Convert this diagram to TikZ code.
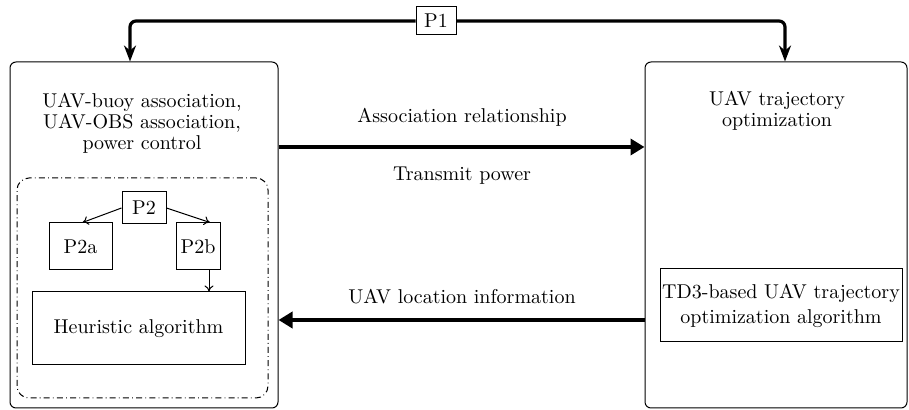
\documentclass[tikz,border=0pt]{standalone}
\usepackage{tikz}
\usetikzlibrary{arrows.meta,positioning}

\begin{document}
\begin{tikzpicture}[x=0.5pt, y=-0.5pt, font=\fontsize{10}{10.5}\selectfont,
  blk/.style={draw, line width=0.5pt, rounded corners=3pt},
  sbox/.style={draw, line width=0.5pt, inner sep=1pt},
  txt/.style={align=center, inner sep=0pt},
  thin/.style={line width=0.5pt, -{To[length=3pt,width=4.5pt]}},
  fat/.style={line width=2.3pt, -{Triangle[length=7pt,width=8pt]}},
  top/.style={line width=1.6pt, rounded corners=3pt, -{Stealth[length=8pt,width=6pt]}}]
\useasboundingbox (0,0) rectangle (909,410);

% left block
\node[blk, minimum width=134pt, minimum height=173pt] (left) at (144,235) {};
\node[txt] (ltext) at (142,123) {UAV-buoy association,\\UAV-OBS association,\\power control};
\node[draw, line width=0.5pt, rounded corners=6pt, dash pattern=on 3pt off 1.6pt on 0.4pt off 1.6pt,
  minimum width=125.5pt, minimum height=110pt] (inner) at (142.5,288) {};
\node[sbox, minimum width=22pt, minimum height=16pt] (p2) at (144,208) {P2};
\node[sbox, minimum width=31.5pt, minimum height=23.5pt] (p2a) at (80.5,246.5) {P2a};
\node[sbox, minimum width=22pt, minimum height=23.5pt] (p2b) at (198,246.5) {P2b};
\node[sbox, minimum width=106.5pt, minimum height=36.5pt] (heur) at (138.5,328.5) {Heuristic algorithm};
\draw[thin] (p2.west) -- ([xshift=1pt]p2a.north);
\draw[thin] (p2.east) -- ([xshift=6pt]p2b.north);
\draw[thin] ([xshift=5.5pt]p2b.south) -- ([xshift=5.5pt]p2b.south |- heur.north);

% right block
\node[blk, minimum width=131pt, minimum height=173pt] (right) at (776,235) {};
\node[txt] (rtext) at (777,111) {UAV trajectory\\optimization};
\node[sbox, minimum width=121pt, minimum height=36.5pt, align=center,
  font=\fontsize{10}{12.5}\selectfont] (td3) at (781,305.5)
  {TD3-based UAV trajectory\\optimization algorithm};

% P1
\node[sbox, minimum width=20pt, minimum height=14pt] (p1) at (436,21) {P1};
\draw[top] (p1.west) -| ([xshift=-7pt]left.north);
\draw[top] (p1.east) -| ([xshift=4.5pt]right.north);

% exchange between blocks
\draw[fat] ([yshift=44pt]left.east) -- ([yshift=44pt]right.west);
\draw[fat] ([yshift=-42.5pt]right.west) -- ([yshift=-42.5pt]left.east);
\node[txt] (assoc) at (462,117) {Association relationship};
\node[txt] (power) at (462,176) {Transmit power};
\node[txt] (loc) at (462,297) {UAV location information};
\end{tikzpicture}
\end{document}
